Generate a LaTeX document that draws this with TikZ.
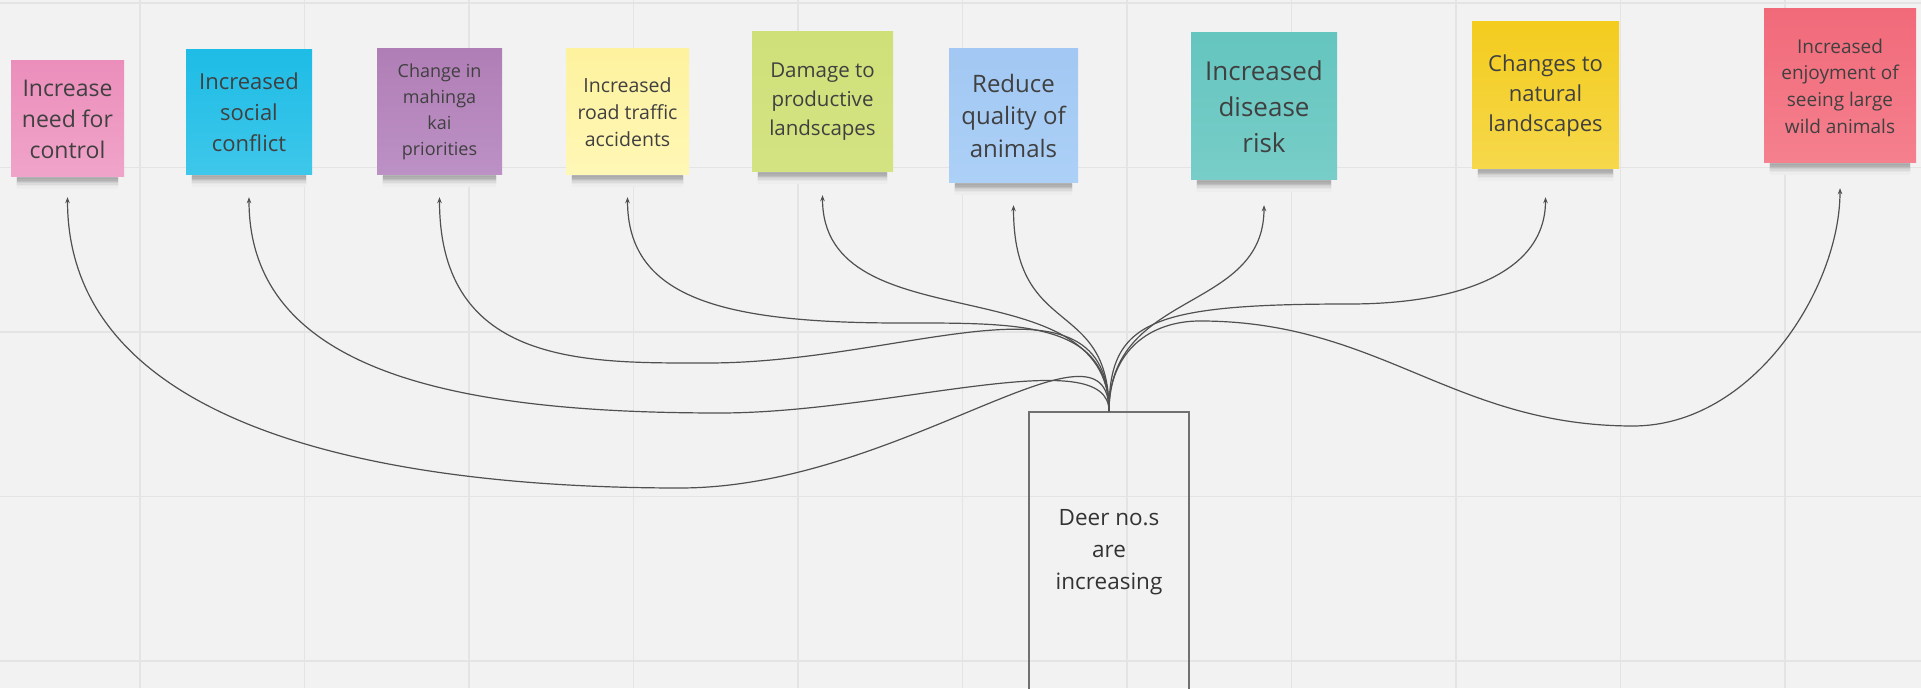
\documentclass[tikz,border=0pt]{standalone}
\usepackage{fontspec}
\setmainfont{Open Sans}
\usetikzlibrary{arrows.meta,backgrounds}
\definecolor{bgc}{HTML}{F2F2F2}
\definecolor{gridc}{HTML}{E4E4E4}
\definecolor{linec}{HTML}{505050}
\definecolor{boxc}{HTML}{707070}
\definecolor{txt}{HTML}{404040}
\definecolor{dtxt}{HTML}{333333}
\colorlet{shc1}{black!26!bgc}
\colorlet{shc2}{black!30!bgc}
\colorlet{shc3}{black!27!bgc}
\colorlet{shc4}{black!21!bgc}
\colorlet{shc5}{black!15!bgc}
\colorlet{shc6}{black!10!bgc}
\colorlet{shc7}{black!5!bgc}
\colorlet{shc8}{black!2!bgc}
\pgfdeclarehorizontalshading{shd1}{100bp}{color(0bp)=(bgc); color(15bp)=(shc1); color(85bp)=(shc1); color(100bp)=(bgc)}
\pgfdeclarehorizontalshading{shd2}{100bp}{color(0bp)=(bgc); color(15bp)=(shc2); color(85bp)=(shc2); color(100bp)=(bgc)}
\pgfdeclarehorizontalshading{shd3}{100bp}{color(0bp)=(bgc); color(15bp)=(shc3); color(85bp)=(shc3); color(100bp)=(bgc)}
\pgfdeclarehorizontalshading{shd4}{100bp}{color(0bp)=(bgc); color(15bp)=(shc4); color(85bp)=(shc4); color(100bp)=(bgc)}
\pgfdeclarehorizontalshading{shd5}{100bp}{color(0bp)=(bgc); color(15bp)=(shc5); color(85bp)=(shc5); color(100bp)=(bgc)}
\pgfdeclarehorizontalshading{shd6}{100bp}{color(0bp)=(bgc); color(15bp)=(shc6); color(85bp)=(shc6); color(100bp)=(bgc)}
\pgfdeclarehorizontalshading{shd7}{100bp}{color(0bp)=(bgc); color(15bp)=(shc7); color(85bp)=(shc7); color(100bp)=(bgc)}
\pgfdeclarehorizontalshading{shd8}{100bp}{color(0bp)=(bgc); color(15bp)=(shc8); color(85bp)=(shc8); color(100bp)=(bgc)}
\tikzset{
  note/.style={rectangle, inner sep=0pt, align=center, text=txt},
  conn/.style={draw=linec, line width=1.2pt, -{Stealth[length=6pt,width=4.5pt]}},
  gridline/.style={draw=gridc, line width=1.5pt},
}
\begin{document}
\begin{tikzpicture}[x=1pt,y=1pt]
\useasboundingbox (0,0) rectangle (1921,688);

% notes
\node[note, minimum width=113, minimum height=116, top color={rgb,255:red,235;green,142;blue,187}, bottom color={rgb,255:red,240;green,164;blue,201}, font=\fontsize{23}{31}\selectfont] (n1) at (67.5,569) {Increase\\need for\\control};
\node[note, minimum width=126, minimum height=125, top color={rgb,255:red,30;green,188;blue,230}, bottom color={rgb,255:red,62;green,199;blue,234}, font=\fontsize{22}{31}\selectfont] (n2) at (249,575.5) {Increased\\social\\conflict};
\node[note, minimum width=125, minimum height=126, top color={rgb,255:red,176;green,126;blue,182}, bottom color={rgb,255:red,188;green,145;blue,197}, font=\fontsize{18}{26}\selectfont] (n3) at (439.5,576) {Change in\\mahinga\\kai\\priorities};
\node[note, minimum width=123, minimum height=126, top color={rgb,255:red,254;green,242;blue,158}, bottom color={rgb,255:red,255;green,247;blue,182}, font=\fontsize{19.5}{27}\selectfont] (n4) at (627.5,576) {Increased\\road traffic\\accidents};
\node[note, minimum width=141, minimum height=140, top color={rgb,255:red,207;green,224;blue,121}, bottom color={rgb,255:red,212;green,227;blue,130}, font=\fontsize{20.5}{29}\selectfont] (n5) at (822.5,586) {Damage to\\productive\\landscapes};
\node[note, minimum width=129, minimum height=134, top color={rgb,255:red,162;green,200;blue,243}, bottom color={rgb,255:red,172;green,208;blue,246}, font=\fontsize{24}{32.5}\selectfont] (n6) at (1013.5,572) {Reduce\\quality of\\animals};
\node[note, minimum width=146, minimum height=147, top color={rgb,255:red,101;green,197;blue,191}, bottom color={rgb,255:red,120;green,205;blue,200}, font=\fontsize{26}{36}\selectfont] (n7) at (1264,581.5) {Increased\\disease\\risk};
\node[note, minimum width=147, minimum height=147, top color={rgb,255:red,243;green,204;blue,30}, bottom color={rgb,255:red,246;green,216;blue,75}, font=\fontsize{22}{30}\selectfont] (n8) at (1545.5,592.5) {Changes to\\natural\\landscapes};
\node[note, minimum width=152, minimum height=154, top color={rgb,255:red,241;green,106;blue,122}, bottom color={rgb,255:red,245;green,128;blue,142}, font=\fontsize{19}{26.7}\selectfont] (n9) at (1840,602) {Increased\\enjoyment of\\seeing large\\wild animals};

% central box
\node[draw=boxc, line width=1.8pt, minimum width=160, minimum height=280, align=center, text=dtxt, font=\fontsize{22.5}{32}\selectfont] (deer) at (1109,136) {Deer no.s\\are\\increasing};

% arrow tips
\coordinate (t1) at ([yshift=-20pt]n1.south);
\coordinate (t2) at ([yshift=-22pt]n2.south);
\coordinate (t3) at ([yshift=-22pt]n3.south);
\coordinate (t4) at ([yshift=-22pt]n4.south);
\coordinate (t5) at ([yshift=-23pt]n5.south);
\coordinate (t6) at ([yshift=-22pt]n6.south);
\coordinate (t7) at ([yshift=-25pt]n7.south);
\coordinate (t8) at ([yshift=-28pt]n8.south);
\coordinate (t9) at ([yshift=-25pt]n9.south);
% waypoints
\coordinate (w1) at (680,200);
\coordinate (w2) at (720,275);
\coordinate (w3) at (708,325);
\coordinate (w4) at (900,365);
\coordinate (w8) at (1350,384);
\coordinate (w9a) at (1200,367);
\coordinate (w9b) at (1633,262);

\begin{scope}[on background layer]
  \fill[bgc] (0,0) rectangle (1921,688);
  \foreach \k in {0,...,10} \draw[gridline] (140+164.5*\k,0) -- (140+164.5*\k,688);
  \foreach \yy in {685,520.5,356,191.5,27} \draw[gridline] (0,\yy) -- (1921,\yy);
  \foreach \n in {n1,n2,n3,n4,n5,n6,n7,n8,n9}
    \foreach \j in {1,...,8}
      \shade[shading=shd\j] ([xshift=6pt,yshift={(1-\j)*1.4pt+0.3pt}]\n.south west) rectangle ([xshift=-6pt,yshift={-\j*1.4pt}]\n.south east);
\end{scope}

% connectors
\draw[conn] (deer.north) .. controls +(0,110) and +(220,0) .. (w1) .. controls +(-300,0) and +(0,-230) .. (t1);
\draw[conn] (deer.north) .. controls +(0,70) and +(170,0) .. (w2) .. controls +(-250,0) and +(0,-180) .. (t2);
\draw[conn] (deer.north) .. controls +(0,150) and +(200,0) .. (w3) .. controls +(-120,0) and +(0,-170) .. (t3);
\draw[conn] (deer.north) .. controls +(0,90) and +(120,0) .. (w4) .. controls +(-180,0) and +(0,-100) .. (t4);
\draw[conn] (deer.north) .. controls +(0,148) and +(0,-150) .. (t5);
\draw[conn] (deer.north) .. controls +(0,115) and +(0,-135) .. (t6);
\draw[conn] (deer.north) .. controls +(0,122) and +(0,-108) .. (t7);
\draw[conn] (deer.north) .. controls +(0,90) and +(-200,0) .. (w8) .. controls +(100,0) and +(0,-80) .. (t8);
\draw[conn] (deer.north) .. controls +(0,60) and +(-50,0) .. (w9a) .. controls +(180,0) and +(-180,0) .. (w9b) .. controls +(120,0) and +(0,-100) .. (t9);
\end{tikzpicture}
\end{document}
